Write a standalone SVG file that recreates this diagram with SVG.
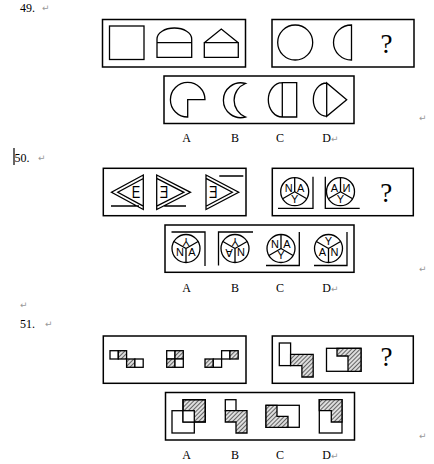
<svg xmlns="http://www.w3.org/2000/svg" width="434" height="464" viewBox="0 0 434 464">
<style>
.box{fill:none;stroke:#000;stroke-width:1.5}
.sh{fill:none;stroke:#000;stroke-width:1.3}
.wh{fill:#fff;stroke:#000;stroke-width:1.3}
.ht{fill:url(#hatch);stroke:#000;stroke-width:1.3}
.num{font-family:"Liberation Serif",serif;font-size:12px;fill:#000}
.lbl{font-family:"Liberation Serif",serif;font-size:12px;fill:#000;text-anchor:middle}
.q{font-family:"Liberation Serif",serif;font-size:27px;fill:#000;text-anchor:middle}
.pm{font-family:"DejaVu Sans",sans-serif;font-size:9px;fill:#999}
.lt{font-family:"Liberation Sans",Arial,sans-serif;font-size:11px;fill:#000;text-anchor:middle}
.big{font-family:"Liberation Sans",Arial,sans-serif;font-size:17px;fill:#000;text-anchor:middle}
</style>
<defs>
<pattern id="hatch" width="3" height="3" patternUnits="userSpaceOnUse" patternTransform="rotate(45)">
<rect width="3" height="3" fill="#dedede"/>
<line x1="0.5" y1="0" x2="0.5" y2="3" stroke="#555" stroke-width="0.9"/>
</pattern>
<g id="cdown"><circle r="14" class="sh"/><path class="sh" d="M0,0V-14M0,0L-12.1,7M0,0L12.1,7"/></g>
<g id="cup"><circle r="14" class="sh"/><path class="sh" d="M0,0V14M0,0L-12.1,-7M0,0L12.1,-7"/></g>
</defs>
<rect width="434" height="464" fill="#fff"/>

<!-- Problem 49 -->
<g id="q49">
<text class="num" x="20" y="12">49.</text><text class="pm" x="42" y="11">↵</text>
<g id="q49-stem1">
<rect class="box" x="102.5" y="19.5" width="143" height="47.5"/>
<rect class="sh" x="109.5" y="26" width="34.5" height="33.5"/>
<path class="sh" d="M157,42.7H191.7V57.3H157ZM157,42.7V39A17.35 11 0 0 1 191.7,39V42.7"/>
<path class="sh" d="M204.3,42.7H238.3V57.3H204.3ZM204.3,42.7L221.3,29L238.3,42.7"/>
</g>
<g id="q49-stem2">
<rect class="box" x="272" y="19.5" width="142" height="47.5"/>
<circle class="sh" cx="295.2" cy="42.5" r="17.5"/>
<path class="sh" d="M351.5,25V60A18 17.5 0 0 1 351.5,25Z"/>
<text class="q" x="386.5" y="52.5">?</text>
</g>
<g id="q49-options">
<rect class="box" x="164" y="76" width="190" height="47.5"/>
<path class="sh" d="M205,99.7H187.7V117A17.3 17.3 0 1 1 205,99.7Z"/>
<path class="sh" d="M245.5,83.5A17.4 17.4 0 1 0 245.5,117A18 18 0 0 1 245.5,83.5Z"/>
<path class="sh" d="M282.3,82.7H296.7V117H282.3ZM282.3,82.7A14 17.15 0 0 0 282.3,117"/>
<path class="sh" d="M326.7,83V116.3L346.7,99.7ZM326.7,83A13.4 16.65 0 0 0 326.7,116.3"/>
</g>
<text class="lbl" x="186.7" y="142">A</text>
<text class="lbl" x="235" y="142">B</text>
<text class="lbl" x="280" y="142">C</text>
<text class="lbl" x="326.7" y="142">D</text><text class="pm" x="331" y="142">↵</text>
<text class="pm" x="419" y="121">↵</text>
</g>

<!-- Problem 50 -->
<g id="q50">
<line x1="14" y1="148" x2="14" y2="165" stroke="#000" stroke-width="1.2"/>
<text class="num" x="14.5" y="162">50.</text><text class="pm" x="38" y="161">↵</text>
<g id="q50-stem1">
<rect class="box" x="103.3" y="168.3" width="142.7" height="47.4"/>
<g id="f50-1">
<path class="sh" d="M143.3,175L111.5,192.3L143.3,209.5ZM143.3,178.5L117.8,192.3L143.3,206.1M111,206H139"/>
<text class="big" transform="translate(136,198.4) scale(0.75,1)">E</text>
</g>
<g id="f50-2">
<path class="sh" d="M156.7,175L190.5,192.3L156.7,209.5ZM156.7,178.4L183.9,192.3L156.7,206.2M164.3,206H186"/>
<text class="big" transform="translate(164,198.4) scale(-0.75,1)">E</text>
</g>
<g id="f50-3">
<path class="sh" d="M206,175L238.7,192.3L206,209.5ZM206,178.4L232.3,192.3L206,206.2M219.3,176H243.3"/>
<text class="big" transform="translate(213.3,198.4) scale(-0.75,1)">E</text>
</g>
</g>
<g id="q50-stem2">
<rect class="box" x="272.3" y="168.3" width="141" height="47.4"/>
<use href="#cdown" x="294.7" y="191.7"/>
<text class="lt" x="288.7" y="191.6">N</text><text class="lt" x="300.7" y="191.6">A</text><text class="lt" x="294.7" y="202.6">Y</text>
<path class="sh" d="M313,176.7V208.3H278"/>
<use href="#cdown" x="340.5" y="191.7"/>
<text class="lt" x="334.5" y="191.6">A</text><text class="lt" transform="translate(346.5,191.6) scale(-1,1)">N</text><text class="lt" x="340.5" y="202.6">Y</text>
<path class="sh" d="M325.3,176.7V208.3H359.7"/>
<text class="q" x="386.3" y="201.5">?</text>
</g>
<g id="q50-options">
<rect class="box" x="165" y="225" width="189" height="47.3"/>
<use href="#cup" x="186" y="248.5"/>
<text class="lt" x="186" y="245.4" transform="rotate(180 186 241.5)">Y</text>
<text class="lt" x="180" y="256.4">N</text><text class="lt" x="192" y="256.4">A</text>
<path class="sh" d="M171.5,232H205V266"/>
<use href="#cup" x="235" y="248.5"/>
<text class="lt" x="235" y="245.4" transform="rotate(180 235 241.5)">Y</text>
<text class="lt" x="229" y="256.4" transform="rotate(180 229 252.5)">A</text><text class="lt" x="241" y="256.4">N</text>
<path class="sh" d="M253,232H218.5V265.5"/>
<use href="#cdown" x="281" y="248.5"/>
<text class="lt" x="275" y="248.4">N</text><text class="lt" x="287" y="248.4">A</text><text class="lt" x="281" y="259.4">Y</text>
<path class="sh" d="M299.3,232V265.5H266"/>
<use href="#cup" x="328.5" y="248.5"/>
<text class="lt" x="328.5" y="245.4">Y</text>
<text class="lt" x="322.5" y="256.4">A</text><text class="lt" x="334.5" y="256.4">N</text>
<path class="sh" d="M347,232V265.5H314"/>
</g>
<text class="lbl" x="186.7" y="292">A</text>
<text class="lbl" x="235" y="292">B</text>
<text class="lbl" x="280" y="292">C</text>
<text class="lbl" x="326.7" y="292">D</text><text class="pm" x="331" y="292">↵</text>
<text class="pm" x="419" y="272">↵</text>
</g>

<!-- Problem 51 -->
<g id="q51">
<text class="pm" x="20" y="308">↵</text>
<text class="num" x="20" y="328">51.</text><text class="pm" x="45" y="327">↵</text>
<g id="q51-stem1">
<rect class="box" x="103.3" y="336" width="142.7" height="47.3"/>
<rect class="wh" x="110" y="350.7" width="8.3" height="8.3"/><rect class="ht" x="118.3" y="350.7" width="8.3" height="8.3"/>
<rect class="ht" x="126.6" y="359" width="8.3" height="8.3"/><rect class="wh" x="134.9" y="359" width="8.3" height="8.3"/>
<rect class="wh" x="166.7" y="350.7" width="8.3" height="8.3"/><rect class="ht" x="175" y="350.7" width="8.3" height="8.3"/>
<rect class="ht" x="166.7" y="359" width="8.3" height="8.3"/><rect class="wh" x="175" y="359" width="8.3" height="8.3"/>
<rect class="ht" x="205" y="359" width="8.3" height="8.3"/><rect class="wh" x="213.3" y="359" width="8.3" height="8.3"/>
<rect class="wh" x="221.6" y="350.7" width="8.3" height="8.3"/><rect class="ht" x="229.9" y="350.7" width="8.3" height="8.3"/>
</g>
<g id="q51-stem2">
<rect class="box" x="272.3" y="336" width="141" height="47.3"/>
<rect class="wh" x="279.3" y="343" width="11.3" height="22.6"/>
<path class="ht" d="M290.6,354.3H313.2V377H301.9V365.6H290.6Z"/>
<rect class="wh" x="326.5" y="348.3" width="34.5" height="23"/>
<path class="ht" d="M337,348.3V356H348V371.3H361V348.3Z"/>
<text class="q" x="386.5" y="366">?</text>
</g>
<g id="q51-options">
<rect class="box" x="165.5" y="392.5" width="189" height="47.5"/>
<rect class="ht" x="183" y="399.7" width="22.3" height="22.3"/>
<rect fill="#fff" x="183" y="410.7" width="11.3" height="11.3"/>
<rect class="sh" x="172" y="410.7" width="22.3" height="22.3"/>
<rect class="sh" x="183" y="399.7" width="22.3" height="22.3"/>
<rect class="wh" x="225.3" y="399.7" width="10.7" height="11"/>
<path class="ht" d="M225.3,410.7H247V433H236V422H225.3Z"/>
<rect class="wh" x="266" y="405.3" width="33.3" height="22"/>
<path class="ht" d="M266,405.3H277V416.3H288V427.3H266Z"/>
<rect class="wh" x="319.3" y="399.7" width="22.7" height="33.3"/>
<path class="ht" d="M319.3,399.7H342V422H331.3V410.7H319.3Z"/>
</g>
<text class="lbl" x="186.7" y="459">A</text>
<text class="lbl" x="235" y="459">B</text>
<text class="lbl" x="280" y="459">C</text>
<text class="lbl" x="326.7" y="459">D</text><text class="pm" x="331" y="459">↵</text>
<text class="pm" x="419" y="439">↵</text>
</g>
</svg>
